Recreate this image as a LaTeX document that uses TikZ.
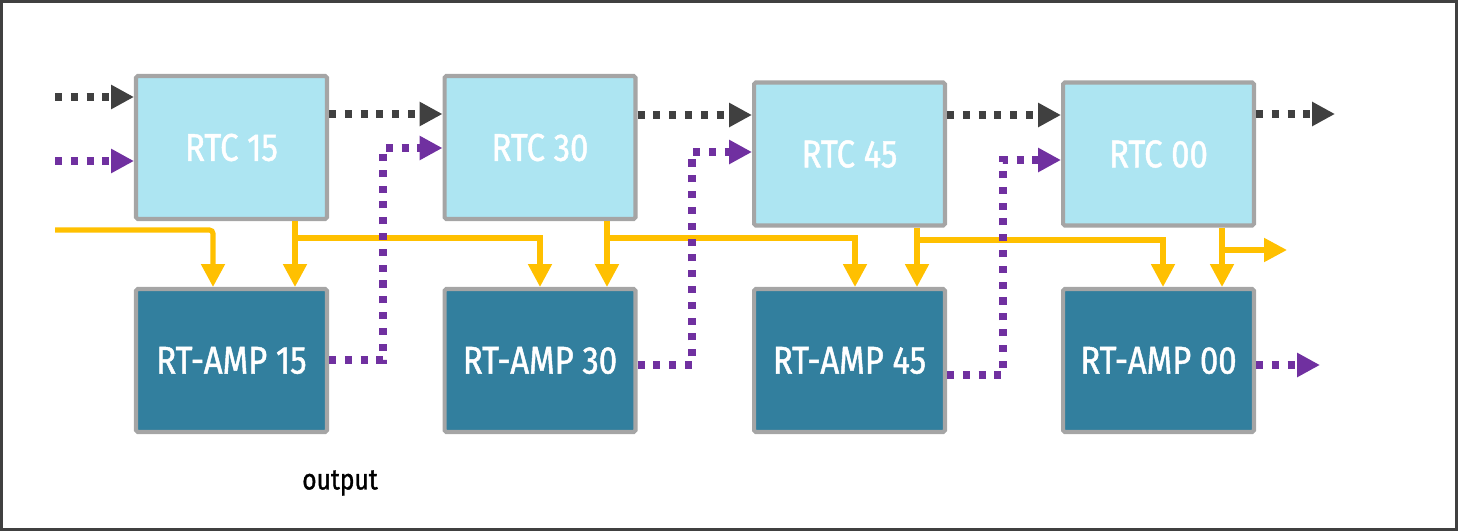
\documentclass[tikz,border=0pt]{standalone}
\usepackage{fontspec}
\setmainfont{Fira Sans}[FakeStretch=0.85]
\newfontfamily\labfont{Fira Sans}[FakeStretch=0.85,FakeBold=1.2]
\usetikzlibrary{arrows.meta,calc}
\definecolor{rtcfill}{HTML}{ADE5F2}
\definecolor{ampfill}{HTML}{327F9E}
\definecolor{boxline}{HTML}{A5A5A5}
\definecolor{yel}{HTML}{FFC000}
\definecolor{purp}{HTML}{7030A0}
\definecolor{dgray}{HTML}{404040}
\tikzset{
  px/.style={x=0.02cm,y=-0.02cm},
  rtcbox/.style={draw=boxline,fill=rtcfill,line width=2.3pt,rounded corners=1pt,
    minimum width=3.82cm,minimum height=2.86cm,inner sep=0pt,text=white,font=\labfont\fontsize{22}{25}\selectfont},
  ampbox/.style={rtcbox,fill=ampfill},
  blk/.style={draw=dgray,line width=4pt,dash pattern=on 4pt off 5pt,-{Triangle[length=13pt,width=13pt]}},
  pur/.style={draw=purp,line width=4pt,dash pattern=on 4pt off 5pt,-{Triangle[length=13pt,width=13pt]}},
  yl/.style={draw=yel,line width=2.9pt,-{Triangle[length=13pt,width=13pt]}},
}
\begin{document}
\begin{tikzpicture}[px]
\useasboundingbox (0,0) rectangle (1458,531);
\draw[dgray,line width=1.7pt] (1.5,1.5) rectangle (1456.5,529.5);
% nodes
\node[rtcbox] (r15) at (231.5,147.5) {RTC 15};
\node[rtcbox] (r30) at (540,147.5) {RTC 30};
\node[rtcbox] (r45) at (849.5,154) {RTC 45};
\node[rtcbox] (r00) at (1158.5,154) {RTC 00};
\node[ampbox] (a15) at (231.5,360.5) {RT-AMP 15};
\node[ampbox] (a30) at (540,360.5) {RT-AMP 30};
\node[ampbox] (a45) at (849.5,360.5) {RT-AMP 45};
\node[ampbox] (a00) at (1158.5,360.5) {RT-AMP 00};
\node[font=\labfont\fontsize{16.5}{19}\selectfont] (out) at (340,483) {output};
\coordinate (inB) at (55,97);
\coordinate (inP) at (55,161);
\coordinate (inY) at (55,230);
\coordinate (outB) at (1335,114);
\coordinate (outP) at (1320,365);
\coordinate (outY) at (1287,250);
% yellow
\draw[yl,rounded corners=2pt] (inY) -| (a15.north -| 213,0);
\draw[yl] (r15.south -| 295,0) -- (a15.north -| 295,0);
\draw[yl] (295,238) -| (a30.north -| 540,0);
\draw[yl] (r30.south -| 607,0) -- (a30.north -| 607,0);
\draw[yl] (607,238) -| (a45.north -| 855,0);
\draw[yl] (r45.south -| 917,0) -- (a45.north -| 917,0);
\draw[yl] (917,240) -| (a00.north -| 1163,0);
\draw[yl] (r00.south -| 1222,0) -- (a00.north -| 1222,0);
\draw[yl] (1222,250) -- (outY);
% black dotted
\draw[blk] (inB) -- (r15.west |- inB);
\draw[blk] (r15.east |- 0,114) -- (r30.west |- 0,114);
\draw[blk] (r30.east |- 0,115) -- (r45.west |- 0,115);
\draw[blk] (r45.east |- 0,115) -- (r00.west |- 0,115);
\draw[blk] (r00.east |- outB) -- (outB);
% purple dotted
\draw[pur] (inP) -- (r15.west |- inP);
\draw[pur] (a15.east |- 0,360) -| (383,148) -- (r30.west |- 0,148);
\draw[pur] (a30.east |- 0,365) -| (692,152) -- (r45.west |- 0,152);
\draw[pur] (a45.east |- 0,375) -| (1003,160) -- (r00.west |- 0,160);
\draw[pur] (a00.east |- outP) -- (outP);
\end{tikzpicture}
\end{document}
